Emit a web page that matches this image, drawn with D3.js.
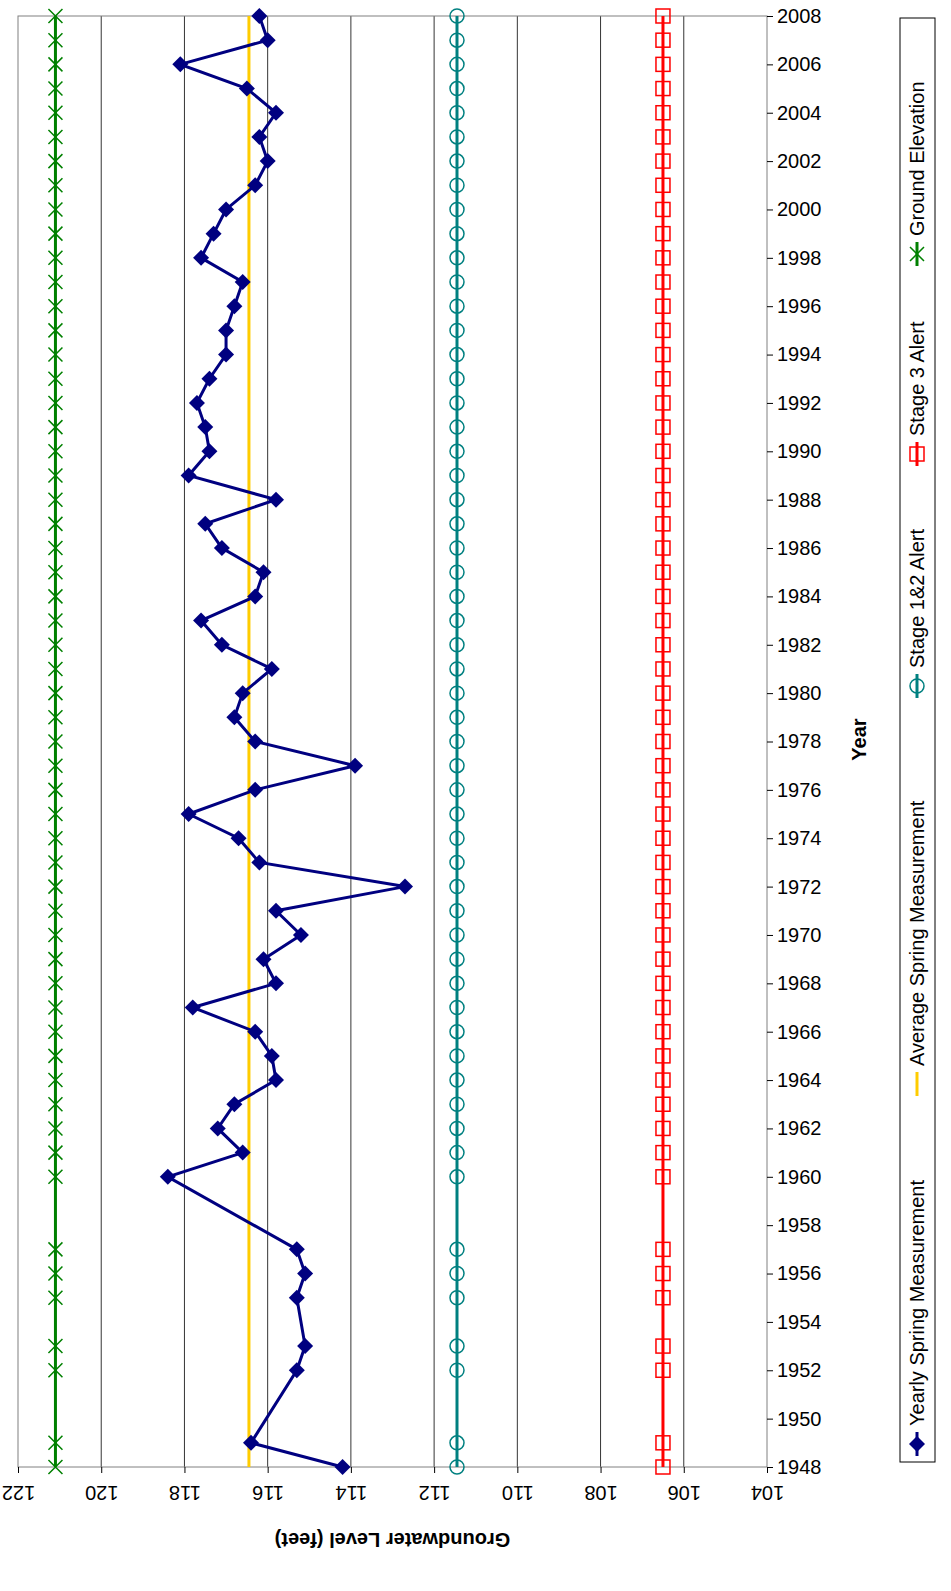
<!DOCTYPE html>
<html><head><meta charset="utf-8">
<script src="https://cdn.jsdelivr.net/npm/d3@7"></script>
<style>body{margin:0;background:#fff}text{font-family:Arial,"Liberation Sans",sans-serif}</style>
</head><body><svg id="chart" width="951" height="1591"></svg>
<script>
'use strict'

const years = [1948,1949,1952,1953,1955,1956,1957,1960,1961,1962,1963,1964,1965,1966,1967,1968,1969,1970,1971,1972,1973,1974,1975,1976,1977,1978,1979,1980,1981,1982,1983,1984,1985,1986,1987,1988,1989,1990,1991,1992,1993,1994,1995,1996,1997,1998,1999,2000,2001,2002,2003,2004,2005,2006,2007,2008];
const yearly = [114.2,116.4,115.3,115.1,115.3,115.1,115.3,118.4,116.6,117.2,116.8,115.8,115.9,116.3,117.8,115.8,116.1,115.2,115.8,112.7,116.2,116.7,117.9,116.3,113.9,116.3,116.8,116.6,115.9,117.1,117.6,116.3,116.1,117.1,117.5,115.8,117.9,117.4,117.5,117.7,117.4,117.0,117.0,116.8,116.6,117.6,117.3,117.0,116.3,116.0,116.2,115.8,116.5,118.1,116.0,116.2];
const average = 116.45, stage12 = 111.45, stage3 = 106.5, ground = 121.1;
const levelTicks = d3.range(104, 123, 2);
const yearTicks = d3.range(1948, 2009, 2);

const svg = d3.select("#chart");
const L = 18, R = 767, T = 16, B = 1467;
const x = d3.scaleLinear().domain([122, 104]).range([L, R]);
const y = d3.scaleLinear().domain([1948, 2008]).range([B, T]);

// grid
svg.append("g").selectAll("line").data(levelTicks.filter(d => d > 104 && d < 122)).join("line")
	.attr("x1", d => x(d)).attr("x2", d => x(d)).attr("y1", T).attr("y2", B)
	.attr("stroke", "#000").attr("stroke-width", 0.8);
svg.append("rect").attr("x", L).attr("y", T).attr("width", R - L).attr("height", B - T)
	.attr("fill", "none").attr("stroke", "#808080").attr("stroke-width", 1);

// level axis (bottom, upside down labels)
let ax = svg.append("g").attr("transform", `translate(0,${B})`).call(d3.axisBottom(x).tickValues(levelTicks).tickSize(6).tickFormat(d3.format("d")));
ax.select(".domain").remove();
ax.selectAll("text").attr("font-size", 20).attr("dy", 0).attr("y", 0)
	.attr("transform", "translate(0,24) rotate(180)").attr("text-anchor", "middle").attr("dominant-baseline", "middle");
svg.append("text").attr("transform", `translate(${(L + R) / 2},${B + 66}) rotate(180)`)
	.attr("text-anchor", "middle").attr("font-size", 20).attr("font-weight", "bold").text("Groundwater Level (feet)");

// year axis (right)
let ay = svg.append("g").attr("transform", `translate(${R},0)`).call(d3.axisRight(y).tickValues(yearTicks).tickSize(6).tickFormat(d3.format("d")));
ay.select(".domain").remove();
ay.selectAll("text").attr("font-size", 20).attr("x", 10);
svg.append("text").attr("transform", `translate(866,${(T + B) / 2 - 2}) rotate(-90)`)
	.attr("text-anchor", "middle").attr("font-size", 20).attr("font-weight", "bold").text("Year");

function flatSeries(val, color, marker){
	svg.append("line").attr("x1", x(val)).attr("x2", x(val)).attr("y1", y(1948)).attr("y2", y(2008))
		.attr("stroke", color).attr("stroke-width", 3);
	if(marker) marker(svg.append("g").selectAll("g").data(years).join("g")
		.attr("transform", d => `translate(${x(val)},${y(d)})`), color);
}
const mCircle = (g, c) => g.append("circle").attr("r", 7).attr("fill", "none").attr("stroke", c).attr("stroke-width", 1.5);
const mSquare = (g, c) => g.append("rect").attr("x", -7).attr("y", -7).attr("width", 14).attr("height", 14).attr("fill", "none").attr("stroke", c).attr("stroke-width", 1.5);
const mCross = (g, c) => g.append("path").attr("d", "M-7,-7L7,7M-7,7L7,-7").attr("stroke", c).attr("stroke-width", 1.5);
const mDiamond = (g, c) => g.append("path").attr("d", "M0,-8L8,0L0,8L-8,0Z").attr("fill", c);

flatSeries(ground, "#008000", mCross);
flatSeries(stage12, "#008080", mCircle);
flatSeries(stage3, "#ff0000", mSquare);
flatSeries(average, "#ffcc00", null);

const pts = years.map((d, i) => [d, yearly[i]]);
svg.append("path").datum(pts).attr("fill", "none").attr("stroke", "#000080").attr("stroke-width", 3)
	.attr("d", d3.line().x(d => x(d[1])).y(d => y(d[0])));
mDiamond(svg.append("g").selectAll("g").data(pts).join("g").attr("transform", d => `translate(${x(d[1])},${y(d[0])})`), "#000080");

// legend (rotated)
svg.append("rect").attr("x", 900).attr("y", 18).attr("width", 35).attr("height", 1444).attr("fill", "none").attr("stroke", "#000");
const legend = [
	{name: "Yearly Spring Measurement", color: "#000080", m: mDiamond, y: 1458},
	{name: "Average Spring Measurement", color: "#ffcc00", m: null, y: 1098},
	{name: "Stage 1&2 Alert", color: "#008080", m: mCircle, y: 700},
	{name: "Stage 3 Alert", color: "#ff0000", m: mSquare, y: 468},
	{name: "Ground Elevation", color: "#008000", m: mCross, y: 268}
];
const lg = svg.append("g").selectAll("g").data(legend).join("g")
	.attr("transform", d => `translate(917,${d.y}) rotate(-90)`);
lg.append("line").attr("x1", 2).attr("x2", 26).attr("stroke", d => d.color).attr("stroke-width", 3);
lg.each(function(d){ if(d.m) d.m(d3.select(this).append("g").attr("transform", "translate(14,0)"), d.color); });
lg.append("text").attr("x", 32).attr("dy", "0.35em").attr("font-size", 20).text(d => d.name);
</script></body></html>
